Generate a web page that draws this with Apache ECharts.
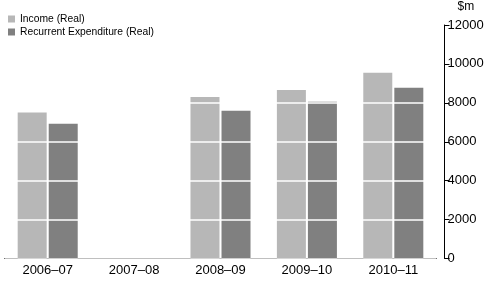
<!DOCTYPE html>
<html>
<head>
<meta charset="utf-8">
<script src="https://cdn.jsdelivr.net/npm/echarts@6/dist/echarts.min.js"></script>
<style>html,body{margin:0;padding:0;background:#fff;}#c{width:496px;height:284px;}</style>
</head>
<body>
<div id="c"></div>
<script>
const categories = ['2006–07', '2007–08', '2008–09', '2009–10', '2010–11'];
const incomeReal = [7500, null, 8300, 8660, 9540];
const expenditureReal = [6920, null, 7590, 8050, 8770];
const seriesNames = ['Income (Real)', 'Recurrent Expenditure (Real)'];
const yTicks = { min: 0, max: 12000, interval: 2000 };
const unitLabel = '$m';

const chart = echarts.init(document.getElementById('c'), null, { renderer: 'canvas' });
const font = 'Liberation Sans, Arial, sans-serif';
chart.setOption({
  animation: false,
  backgroundColor: '#ffffff',
  textStyle: { fontFamily: font },
  grid: { left: 4.5, right: 59.5, top: 25, bottom: 25.5, containLabel: false },
  legend: {
    orient: 'vertical', left: 8, top: 14, padding: 0,
    itemWidth: 7, itemHeight: 7, itemGap: 3,
    icon: 'rect',
    textStyle: { fontFamily: font, fontSize: 10.3, color: '#000' },
    data: seriesNames
  },
  xAxis: {
    type: 'category', data: categories,
    axisLine: { lineStyle: { color: '#000', width: 1 } },
    axisTick: { alignWithLabel: true, length: 4, lineStyle: { color: '#000' } },
    axisLabel: { fontFamily: font, fontSize: 13, color: '#000', margin: 5 },
    splitLine: { show: false }
  },
  yAxis: {
    type: 'value', position: 'right', offset: 8,
    min: yTicks.min, max: yTicks.max, interval: yTicks.interval,
    z: 5,
    name: unitLabel, nameLocation: 'end', nameGap: 12,
    nameTextStyle: { fontFamily: font, fontSize: 12, color: '#000', align: 'left', padding: [0, 0, 0, 13] },
    axisLine: { show: true, lineStyle: { color: '#000', width: 1 } },
    axisTick: { show: true, inside: false, length: 5, lineStyle: { color: '#000' } },
    axisLabel: { fontFamily: font, fontSize: 13, color: '#000', margin: 3, formatter: function (v) { return String(v); } },
    splitLine: { show: true, lineStyle: { color: '#ffffff', width: 1.5 } }
  },
  series: [
    { name: seriesNames[0], type: 'bar', data: incomeReal, barWidth: 29, barGap: '7%', itemStyle: { color: '#b7b7b7' } },
    { name: seriesNames[1], type: 'bar', data: expenditureReal, barWidth: 29, barGap: '7%', itemStyle: { color: '#808080' } }
  ]
});
</script>
</body>
</html>
